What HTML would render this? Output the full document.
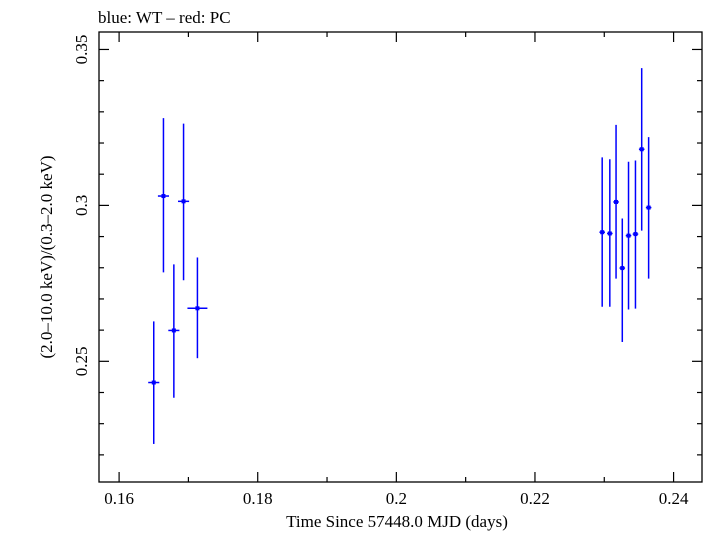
<!DOCTYPE html>
<html><head><meta charset="utf-8"><style>
body{margin:0;background:#fff;}
svg text{font-family:"Liberation Serif",serif;fill:#000;}
</style></head><body>
<svg id="chart" width="705" height="532" xmlns="http://www.w3.org/2000/svg">
<text x="98" y="23" font-size="17">blue: WT – red: PC</text>
<rect x="99" y="32" width="603" height="450" fill="none" stroke="#000" stroke-width="1.3"/>
<g id="axes"></g>
<g id="marks"></g>
<text x="397" y="527" font-size="17" text-anchor="middle">Time Since 57448.0 MJD (days)</text>
<text transform="translate(52,257) rotate(-90)" font-size="17" text-anchor="middle">(2.0–10.0 keV)/(0.3–2.0 keV)</text>
</svg>
<script>
const xs=[0.1650,0.1664,0.1679,0.1693,0.1713,0.2297,0.2308,0.2317,0.2326,0.2335,0.2345,0.2354,0.2364];
const xerr=[0.0008,0.0008,0.0008,0.0008,0.00144,0.0004,0.0004,0.0004,0.0004,0.0004,0.0004,0.0004,0.0004];
const ys=[0.2432,0.3030,0.2599,0.3013,0.2670,0.2914,0.2910,0.3011,0.2799,0.2903,0.2908,0.3180,0.2993];
const yhi=[0.2628,0.3280,0.2811,0.3262,0.2833,0.3154,0.3148,0.3258,0.2958,0.3140,0.3144,0.3440,0.3219];
const ylo=[0.2235,0.2785,0.2383,0.2760,0.2510,0.2675,0.2675,0.2765,0.2562,0.2666,0.2669,0.2919,0.2765];
const xTicks=[0.16,0.18,0.2,0.22,0.24];
const xTickLabels=["0.16","0.18","0.2","0.22","0.24"];
const yTicks=[0.25,0.3,0.35];
const yTickLabels=["0.25","0.3","0.35"];
const X0=0.1571,X1=0.2441,Y0=0.2113,Y1=0.3556;
const L=99,R=702,T=32,B=482;
const sx=v=>L+(v-X0)/(X1-X0)*(R-L);
const sy=v=>B-(v-Y0)/(Y1-Y0)*(B-T);
const NS="http://www.w3.org/2000/svg";
const axes=document.getElementById('axes'),marks=document.getElementById('marks');
function ln(p,x1,y1,x2,y2,c,w){const e=document.createElementNS(NS,'line');e.setAttribute('x1',x1);e.setAttribute('y1',y1);e.setAttribute('x2',x2);e.setAttribute('y2',y2);e.setAttribute('stroke',c);e.setAttribute('stroke-width',w);p.appendChild(e);return e;}
for(let v=0.16;v<=0.2441;v+=0.01){const x=sx(v);const major=Math.abs(Math.round(v*100)%2)===0;const len=major?10:5;
const a=ln(axes,x,B,x,B-len,'#000',1.2);


const b=ln(axes,x,T,x,T+len,'#000',1.2);

}
for(let v=0.22;v<=0.3556;v+=0.01){const y=sy(v);const major=Math.abs(Math.round(v*100)%5)===0;const len=major?10:5;
const a=ln(axes,L,y,L+len,y,'#000',1.2);


const b=ln(axes,R,y,R-len,y,'#000',1.2);

}
xTicks.forEach((v,i)=>{const t=document.createElementNS(NS,'text');t.setAttribute('x',sx(v));t.setAttribute('y',504);t.setAttribute('font-size','17');t.setAttribute('text-anchor','middle');t.textContent=xTickLabels[i];


axes.appendChild(t);});
yTicks.forEach((v,i)=>{const t=document.createElementNS(NS,'text');t.setAttribute('transform',`translate(87,${sy(v)}) rotate(-90)`);t.setAttribute('font-size','17');t.setAttribute('text-anchor','middle');t.textContent=yTickLabels[i];


axes.appendChild(t);});
xs.forEach((v,i)=>{const g=document.createElementNS(NS,'g');


ln(g,sx(v),sy(yhi[i]),sx(v),sy(ylo[i]),'#0000ff',1.5);
ln(g,sx(v-xerr[i]),sy(ys[i]),sx(v+xerr[i]),sy(ys[i]),'#0000ff',1.5);
const r=document.createElementNS(NS,'rect');r.setAttribute('x',sx(v)-2);r.setAttribute('y',sy(ys[i])-2);r.setAttribute('width',4);r.setAttribute('height',4);r.setAttribute('fill','#0000ff');g.appendChild(r);
marks.appendChild(g);});
</script>
</body></html>
